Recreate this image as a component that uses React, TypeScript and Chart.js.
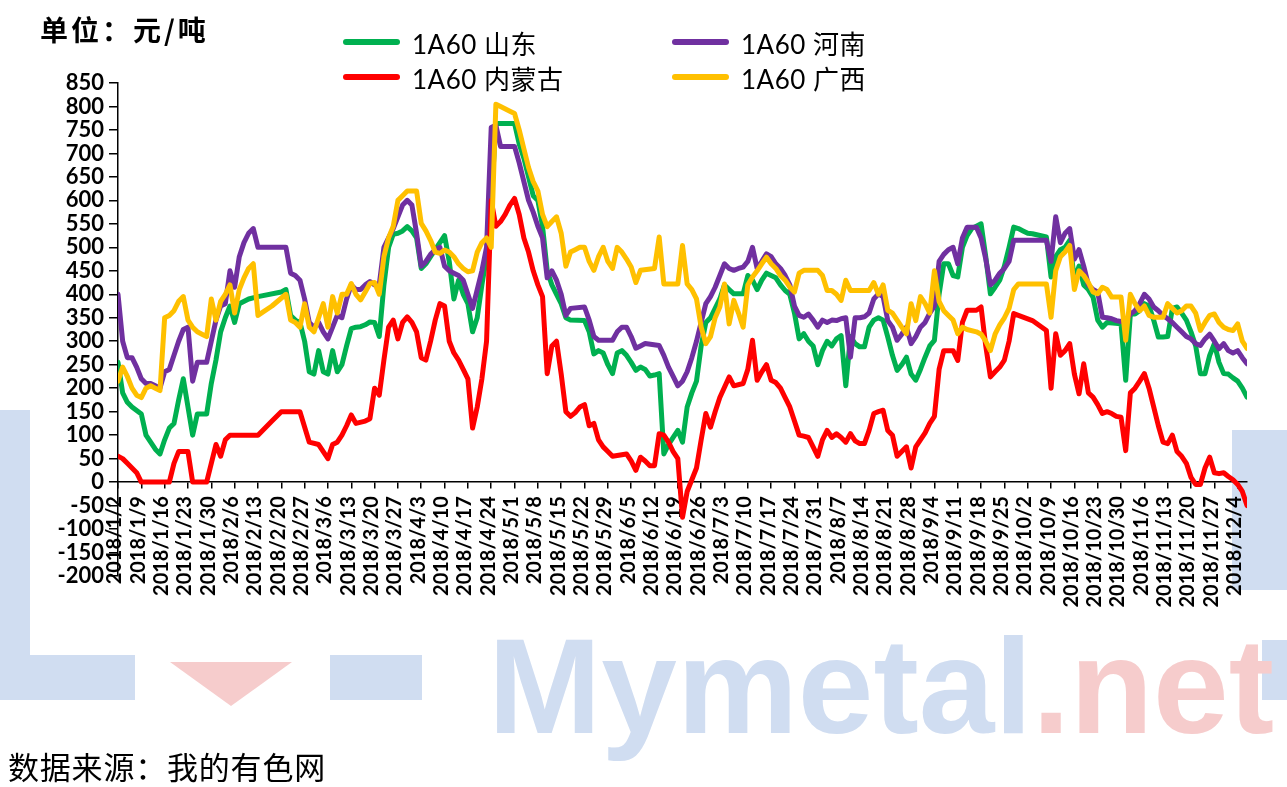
import React, { useEffect, useRef } from "react";
import { Chart, registerables } from "chart.js";

Chart.register(...registerables);

// ---- tick labels (one per week, every 5 trading days) ----
const tickLabels = [
  "2018/1/2", "2018/1/9", "2018/1/16", "2018/1/23", "2018/1/30",
  "2018/2/6", "2018/2/13", "2018/2/20", "2018/2/27",
  "2018/3/6", "2018/3/13", "2018/3/20", "2018/3/27",
  "2018/4/3", "2018/4/10", "2018/4/17", "2018/4/24",
  "2018/5/1", "2018/5/8", "2018/5/15", "2018/5/22", "2018/5/29",
  "2018/6/5", "2018/6/12", "2018/6/19", "2018/6/26",
  "2018/7/3", "2018/7/10", "2018/7/17", "2018/7/24", "2018/7/31",
  "2018/8/7", "2018/8/14", "2018/8/21", "2018/8/28",
  "2018/9/4", "2018/9/11", "2018/9/18", "2018/9/25",
  "2018/10/2", "2018/10/9", "2018/10/16", "2018/10/23", "2018/10/30",
  "2018/11/6", "2018/11/13", "2018/11/20", "2018/11/27",
  "2018/12/4",
];
const DAYS_PER_TICK = 5;
const LAST_DAY = 242;

const Y_MIN = -200;
const Y_MAX = 850;
const Y_STEP = 50;

// ---- series: [trading-day index, 元/吨] ----
const shandong: [number, number][] = [
  [0, 255], [1, 190], [2, 170], [3, 160], [5, 145], [6, 100], [7, 85], [8, 70], [9, 60], [10, 90],
  [11, 115], [12, 125], [13, 175], [14, 220], [16, 100], [17, 145], [19, 145], [20, 210], [21, 260], [22, 320],
  [23, 350], [24, 375], [25, 340], [26, 380], [28, 390], [30, 395], [35, 405], [36, 410], [37, 355], [38, 345],
  [39, 340], [40, 300], [41, 235], [42, 230], [43, 280], [44, 235], [45, 230], [46, 280], [47, 235], [48, 250],
  [49, 290], [50, 327], [51, 330], [52, 331], [53, 335], [54, 341], [55, 340], [56, 310], [57, 420], [58, 500],
  [59, 528], [60, 530], [61, 535], [62, 544], [63, 535], [64, 520], [65, 455], [66, 465], [67, 480], [68, 495],
  [69, 510], [70, 525], [71, 470], [72, 390], [73, 430], [74, 400], [75, 380], [76, 320], [77, 350], [78, 420],
  [79, 480], [80, 600], [81, 764], [85, 764], [86, 720], [87, 690], [88, 650], [89, 610], [90, 600], [91, 545],
  [92, 450], [93, 420], [94, 400], [95, 380], [96, 350], [97, 345], [100, 344], [101, 320], [102, 273], [103, 280],
  [104, 275], [105, 250], [106, 231], [107, 275], [108, 280], [109, 270], [110, 255], [111, 238], [112, 245], [113, 240],
  [114, 226], [115, 228], [116, 231], [117, 60], [118, 80], [119, 95], [120, 110], [121, 85], [122, 160], [123, 190],
  [124, 215], [125, 290], [126, 340], [127, 350], [128, 370], [129, 390], [130, 420], [131, 410], [132, 401], [134, 401],
  [135, 440], [136, 430], [137, 410], [138, 430], [139, 445], [140, 440], [141, 435], [142, 420], [143, 408], [144, 400],
  [145, 360], [146, 305], [147, 316], [148, 300], [149, 290], [150, 250], [151, 280], [152, 300], [153, 290], [154, 305],
  [155, 312], [156, 205], [157, 310], [158, 295], [159, 288], [160, 288], [161, 330], [162, 345], [163, 350], [164, 345],
  [165, 309], [166, 270], [167, 238], [168, 250], [169, 266], [170, 230], [171, 217], [172, 240], [173, 266], [174, 290],
  [175, 302], [176, 400], [177, 465], [178, 465], [179, 440], [180, 437], [181, 500], [182, 525], [183, 540], [184, 545],
  [185, 550], [186, 480], [187, 401], [188, 415], [189, 430], [190, 460], [191, 500], [192, 543], [193, 540], [194, 535],
  [195, 530], [196, 529], [199, 522], [200, 437], [201, 480], [202, 495], [203, 500], [204, 515], [205, 430], [206, 460],
  [207, 420], [208, 410], [209, 394], [210, 345], [211, 330], [212, 340], [215, 337], [216, 217], [217, 358], [218, 358],
  [219, 365], [220, 380], [221, 375], [222, 345], [223, 309], [224, 309], [225, 310], [226, 370], [227, 373], [228, 360],
  [229, 345], [230, 320], [231, 290], [232, 231], [233, 231], [234, 270], [235, 295], [236, 255], [237, 231], [238, 230],
  [239, 222], [240, 215], [241, 200], [242, 181],
];

const henan: [number, number][] = [
  [0, 400], [1, 300], [2, 265], [3, 265], [4, 245], [5, 220], [6, 210], [7, 210], [8, 205], [9, 200],
  [10, 235], [11, 240], [12, 270], [13, 300], [14, 325], [15, 330], [16, 215], [17, 255], [19, 255], [20, 300],
  [21, 345], [22, 375], [23, 380], [24, 450], [25, 415], [26, 480], [27, 510], [28, 530], [29, 540], [30, 500],
  [36, 500], [37, 445], [38, 440], [39, 430], [40, 390], [41, 340], [42, 330], [43, 340], [44, 320], [45, 305],
  [46, 330], [47, 355], [48, 350], [49, 390], [50, 420], [51, 410], [52, 410], [53, 420], [54, 427], [55, 420],
  [56, 420], [57, 500], [58, 520], [59, 540], [60, 565], [61, 590], [62, 600], [63, 590], [64, 530], [65, 460],
  [66, 470], [67, 485], [68, 495], [69, 500], [70, 460], [71, 450], [72, 445], [73, 440], [74, 430], [75, 400],
  [76, 370], [77, 410], [78, 450], [79, 500], [80, 755], [81, 760], [82, 715], [85, 715], [86, 680], [87, 640],
  [88, 600], [89, 575], [90, 545], [91, 520], [92, 435], [93, 450], [94, 430], [95, 400], [96, 355], [97, 370],
  [100, 373], [101, 345], [102, 310], [103, 302], [106, 302], [107, 320], [108, 330], [109, 330], [110, 310], [111, 285],
  [112, 290], [113, 295], [116, 291], [117, 270], [118, 245], [119, 225], [120, 205], [121, 215], [122, 235], [123, 265],
  [124, 300], [125, 340], [126, 380], [127, 395], [128, 415], [129, 440], [130, 465], [131, 455], [132, 451], [133, 455],
  [134, 458], [135, 470], [136, 500], [137, 455], [138, 470], [139, 486], [140, 480], [141, 465], [142, 455], [143, 440],
  [144, 420], [145, 375], [146, 355], [147, 351], [148, 358], [149, 345], [150, 330], [151, 345], [152, 340], [153, 345],
  [154, 344], [155, 348], [156, 350], [157, 266], [158, 350], [159, 350], [160, 352], [161, 360], [162, 390], [163, 401],
  [164, 395], [165, 344], [166, 330], [167, 302], [168, 315], [169, 330], [170, 295], [171, 310], [172, 330], [173, 340],
  [174, 360], [175, 375], [176, 470], [177, 485], [178, 495], [179, 500], [180, 465], [181, 520], [182, 543], [184, 543],
  [185, 520], [186, 475], [187, 420], [188, 430], [189, 445], [190, 455], [191, 470], [192, 515], [199, 515], [200, 470],
  [201, 565], [202, 510], [203, 530], [204, 540], [205, 475], [206, 495], [207, 460], [208, 420], [209, 410], [210, 405],
  [211, 351], [212, 350], [213, 348], [214, 344], [215, 342], [216, 344], [217, 358], [218, 365], [219, 380], [220, 400],
  [221, 390], [222, 373], [223, 365], [224, 355], [225, 348], [226, 340], [227, 330], [228, 320], [229, 310], [230, 305],
  [231, 295], [232, 291], [233, 305], [234, 315], [235, 300], [236, 284], [237, 295], [238, 280], [239, 275], [240, 280],
  [241, 265], [242, 252],
];

const neimenggu: [number, number][] = [
  [0, 55], [1, 50], [2, 40], [3, 30], [4, 20], [5, 0], [11, 0], [12, 40], [13, 65], [15, 65],
  [16, 0], [19, 0], [20, 40], [21, 80], [22, 55], [23, 90], [24, 100], [30, 100], [31, 110], [33, 130],
  [35, 150], [39, 150], [41, 85], [43, 80], [45, 50], [46, 80], [47, 85], [48, 100], [49, 120], [50, 143],
  [51, 125], [53, 130], [54, 135], [55, 200], [56, 185], [57, 260], [58, 330], [59, 345], [60, 305], [61, 340],
  [62, 352], [63, 340], [64, 320], [65, 265], [66, 260], [67, 300], [68, 345], [69, 380], [70, 375], [71, 300],
  [72, 275], [73, 260], [74, 240], [75, 220], [76, 115], [77, 160], [78, 220], [79, 300], [80, 600], [81, 545],
  [82, 555], [83, 570], [84, 590], [85, 604], [86, 570], [87, 520], [88, 490], [89, 450], [90, 420], [91, 395],
  [92, 231], [93, 290], [94, 300], [95, 230], [96, 150], [97, 140], [98, 148], [99, 160], [100, 165], [101, 120],
  [102, 125], [103, 90], [104, 75], [105, 65], [106, 55], [109, 60], [110, 45], [111, 25], [112, 53], [113, 45],
  [114, 35], [115, 35], [116, 103], [117, 100], [118, 85], [119, 65], [120, 50], [121, -75], [122, -20], [123, 5],
  [124, 30], [125, 90], [126, 146], [127, 117], [128, 150], [129, 180], [130, 202], [131, 224], [132, 205], [134, 210],
  [135, 240], [136, 302], [137, 217], [138, 235], [139, 250], [140, 217], [141, 212], [142, 200], [143, 180], [144, 160],
  [145, 130], [146, 100], [147, 98], [148, 95], [149, 75], [150, 55], [151, 90], [152, 110], [153, 95], [154, 103],
  [155, 95], [156, 85], [157, 103], [158, 88], [159, 82], [160, 82], [161, 110], [162, 146], [163, 150], [164, 153],
  [165, 110], [166, 100], [167, 55], [168, 65], [169, 75], [170, 30], [171, 75], [172, 90], [173, 105], [174, 125],
  [175, 140], [176, 240], [177, 280], [179, 280], [180, 259], [181, 340], [182, 366], [184, 366], [185, 373], [186, 290],
  [187, 224], [188, 235], [189, 245], [190, 260], [191, 300], [192, 359], [196, 344], [199, 323], [200, 200], [201, 316],
  [202, 270], [203, 280], [204, 295], [205, 230], [206, 188], [207, 252], [208, 190], [209, 181], [210, 165], [211, 146],
  [212, 150], [213, 146], [214, 140], [215, 138], [216, 67], [217, 190], [218, 200], [219, 215], [220, 231], [221, 200],
  [222, 160], [223, 120], [224, 85], [225, 82], [226, 100], [227, 65], [228, 55], [229, 40], [230, 10], [231, -5],
  [232, -5], [233, 30], [234, 53], [235, 20], [236, 18], [237, 20], [238, 12], [239, 5], [240, -5], [241, -20],
  [242, -50],
];

const guangxi: [number, number][] = [
  [0, 215], [1, 245], [2, 225], [3, 200], [4, 185], [5, 180], [6, 200], [7, 205], [8, 200], [9, 195],
  [10, 350], [11, 355], [12, 365], [13, 385], [14, 395], [15, 345], [16, 330], [17, 320], [18, 315], [19, 310],
  [20, 390], [21, 345], [22, 385], [23, 400], [24, 420], [25, 360], [26, 410], [27, 435], [28, 455], [29, 465],
  [30, 355], [33, 375], [36, 400], [37, 345], [38, 340], [39, 330], [40, 380], [41, 330], [42, 320], [43, 350],
  [44, 380], [45, 330], [46, 395], [47, 360], [48, 400], [49, 400], [50, 423], [51, 400], [52, 388], [53, 405],
  [54, 423], [55, 425], [56, 400], [57, 480], [58, 520], [59, 545], [60, 600], [61, 610], [62, 620], [64, 620],
  [65, 551], [66, 535], [67, 515], [68, 490], [69, 487], [70, 494], [71, 490], [72, 480], [73, 465], [74, 455],
  [75, 448], [76, 450], [77, 490], [78, 510], [79, 520], [80, 500], [81, 805], [82, 800], [84, 790], [85, 785],
  [86, 750], [87, 710], [88, 670], [89, 640], [90, 620], [91, 570], [92, 544], [93, 555], [94, 565], [95, 530],
  [96, 460], [97, 490], [98, 495], [99, 500], [100, 500], [101, 470], [102, 451], [103, 480], [104, 500], [105, 470],
  [106, 455], [107, 500], [108, 490], [109, 475], [110, 458], [111, 425], [112, 451], [115, 455], [116, 522], [117, 422],
  [120, 422], [121, 504], [122, 422], [123, 410], [124, 390], [125, 330], [126, 295], [127, 310], [128, 350], [129, 373],
  [130, 422], [131, 337], [132, 387], [133, 360], [134, 330], [135, 420], [136, 437], [137, 450], [138, 465], [139, 479],
  [140, 465], [141, 455], [142, 440], [143, 430], [144, 415], [145, 405], [146, 445], [147, 451], [150, 451], [151, 440],
  [152, 408], [153, 408], [154, 400], [155, 387], [156, 430], [157, 408], [161, 408], [162, 425], [163, 400], [164, 420],
  [165, 366], [166, 360], [167, 345], [168, 330], [169, 316], [170, 380], [171, 344], [172, 395], [173, 380], [174, 360],
  [175, 450], [176, 385], [177, 365], [178, 355], [179, 345], [180, 316], [181, 330], [182, 325], [184, 320], [185, 315],
  [186, 300], [187, 280], [188, 315], [189, 335], [190, 350], [191, 370], [192, 410], [193, 422], [199, 422], [200, 351],
  [201, 450], [202, 480], [203, 490], [204, 504], [205, 410], [206, 450], [207, 440], [208, 425], [209, 405], [210, 401],
  [211, 415], [212, 410], [213, 394], [215, 394], [216, 302], [217, 400], [218, 380], [219, 365], [220, 375], [221, 355],
  [222, 351], [224, 351], [225, 380], [226, 370], [227, 360], [228, 365], [229, 375], [230, 375], [231, 360], [232, 323],
  [233, 340], [234, 355], [235, 358], [236, 340], [237, 330], [238, 325], [239, 323], [240, 337], [241, 300], [242, 285],
];

const seriesNames = ["1A60 山东", "1A60 河南", "1A60 内蒙古", "1A60 广西"];
const seriesColors = ["#00B050", "#7030A0", "#FF0000", "#FFC000"];
const seriesData = [shandong, henan, neimenggu, guangxi];
// later series are painted on top
const seriesOrder = [3, 2, 1, 0];

const TITLE = "单位：元/吨";
const SOURCE = "数据来源：我的有色网";

const WM_BLUE = "#d0ddf1";
const WM_RED = "#f6cccc";

export default function App() {
  const canvasRef = useRef<HTMLCanvasElement | null>(null);

  useEffect(() => {
    const canvas = canvasRef.current;
    if (!canvas) return;
    const chart = new Chart(canvas, {
      type: "line",
      data: {
        datasets: seriesData.map((arr, i) => ({
          label: seriesNames[i],
          data: arr.map(([x, y]) => ({ x, y })),
          borderColor: seriesColors[i],
          backgroundColor: seriesColors[i],
          borderWidth: 5,
          pointRadius: 0,
          pointHoverRadius: 0,
          tension: 0,
          fill: false,
          borderJoinStyle: "round" as const,
          borderCapStyle: "round" as const,
          order: seriesOrder[i],
        })),
      },
      options: {
        responsive: false,
        maintainAspectRatio: false,
        animation: false,
        events: [],
        layout: { padding: { left: 0, top: 83, right: 40, bottom: 211 } },
        plugins: {
          legend: { display: false },
          title: { display: false },
          tooltip: { enabled: false },
        },
        scales: {
          x: {
            type: "linear",
            min: 0,
            max: LAST_DAY,
            position: { y: 0 } as any,
            afterFit: (s: any) => {
              s.height = 0;
            },
            afterBuildTicks: (s: any) => {
              s.ticks = tickLabels.map((_, i) => ({ value: i * DAYS_PER_TICK }));
            },
            grid: {
              display: true,
              drawOnChartArea: false,
              drawTicks: true,
              tickLength: 6,
              color: "#000",
              lineWidth: 1.5,
            },
            border: { display: true, color: "#000", width: 1.5 },
            ticks: {
              autoSkip: false,
              maxRotation: 90,
              minRotation: 90,
              padding: 8,
              labelOffset: -3,
              color: "#000",
              font: { family: "Lato", weight: "bold", size: 20 },
              callback: (_v: any, i: number) => tickLabels[i],
            },
          },
          y: {
            type: "linear",
            min: Y_MIN,
            max: Y_MAX,
            position: "left",
            afterFit: (s: any) => {
              s.width = 118;
            },
            afterBuildTicks: (s: any) => {
              const t: { value: number }[] = [];
              for (let v = Y_MIN; v <= Y_MAX; v += Y_STEP) t.push({ value: v });
              s.ticks = t;
            },
            grid: {
              display: true,
              drawOnChartArea: false,
              drawTicks: true,
              tickLength: 9,
              color: "#000",
              lineWidth: 1.5,
            },
            border: { display: true, color: "#000", width: 1.5 },
            ticks: {
              autoSkip: false,
              stepSize: Y_STEP,
              padding: 5,
              color: "#000",
              font: { family: "Lato", weight: "bold", size: 22, lineHeight: 1 },
            },
          },
        },
      },
    });
    return () => chart.destroy();
  }, []);

  const legendItems = [
    { i: 0, left: 343, top: 42 },
    { i: 1, left: 672, top: 42 },
    { i: 2, left: 343, top: 77 },
    { i: 3, left: 672, top: 77 },
  ];

  return (
    <div
      style={{
        position: "fixed",
        left: 0,
        top: 0,
        width: 1287,
        height: 787,
        background: "#fff",
        overflow: "hidden",
        fontFamily: "Lato, 'Noto Sans CJK SC', sans-serif",
      }}
    >
      {/* watermark */}
      <div style={{ position: "absolute", left: 0, top: 410, width: 30, height: 290, background: WM_BLUE }} />
      <div style={{ position: "absolute", left: 0, top: 655, width: 135, height: 45, background: WM_BLUE }} />
      <div
        style={{
          position: "absolute",
          left: 170,
          top: 662,
          width: 122,
          height: 44,
          background: WM_RED,
          clipPath: "polygon(0 0, 100% 0, 50% 100%)",
        }}
      />
      <div style={{ position: "absolute", left: 330, top: 655, width: 92, height: 45, background: WM_BLUE }} />
      <div style={{ position: "absolute", left: 1232, top: 430, width: 60, height: 160, background: WM_BLUE }} />
      <div style={{ position: "absolute", left: 1262, top: 640, width: 30, height: 60, background: WM_BLUE }} />
      <div
        style={{
          position: "absolute",
          left: 488,
          top: 606,
          fontFamily: "'Liberation Sans', Arial, sans-serif",
          fontWeight: "bold",
          fontSize: 136,
          lineHeight: "160px",
          whiteSpace: "nowrap",
          color: WM_BLUE,
        }}
      >
        Mymetal<span style={{ color: WM_RED }}>.net</span>
      </div>

      <canvas
        ref={canvasRef}
        width={1287}
        height={787}
        style={{ position: "absolute", left: 0, top: 0, width: 1287, height: 787 }}
      />

      {/* title */}
      <div
        style={{
          position: "absolute",
          left: 40,
          top: 11,
          fontFamily: "'Noto Sans CJK SC', sans-serif",
          fontWeight: "bold",
          fontSize: 28,
          letterSpacing: 3,
          lineHeight: "36px",
          color: "#000",
          whiteSpace: "nowrap",
        }}
      >
        {TITLE}
      </div>

      {/* legend */}
      {legendItems.map(({ i, left, top }) => (
        <div key={i} style={{ position: "absolute", left, top: top - 16, height: 32, display: "flex", alignItems: "center" }}>
          <div style={{ width: 57, height: 6, borderRadius: 3, background: seriesColors[i] }} />
          <div
            style={{
              marginLeft: 12,
              fontFamily: "Lato, 'Noto Sans CJK SC', sans-serif",
              fontSize: 26,
              letterSpacing: 0.5,
              color: "#000",
              whiteSpace: "nowrap",
            }}
          >
            {seriesNames[i]}
          </div>
        </div>
      ))}

      {/* source */}
      <div
        style={{
          position: "absolute",
          left: 8,
          top: 746,
          fontFamily: "'Noto Sans CJK SC', sans-serif",
          fontSize: 31,
          letterSpacing: 0.8,
          lineHeight: "40px",
          color: "#000",
          whiteSpace: "nowrap",
        }}
      >
        {SOURCE}
      </div>
    </div>
  );
}
